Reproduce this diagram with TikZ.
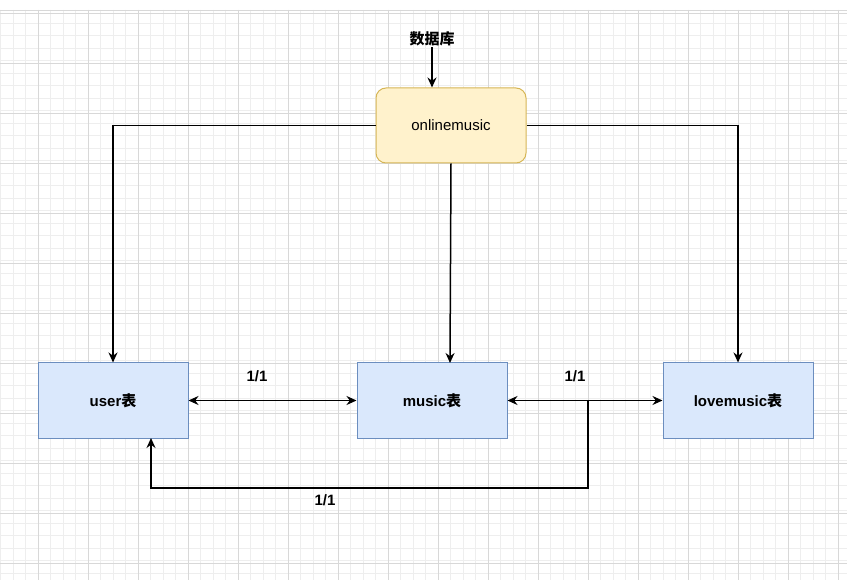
\documentclass[tikz,border=0pt]{standalone}
\usepackage{fontspec}
\setmainfont{Liberation Sans}
\newfontfamily\cjk{Noto Sans CJK SC}
\usetikzlibrary{arrows.meta}
\definecolor{bluefill}{HTML}{DAE8FC}
\definecolor{bluedraw}{HTML}{6C8EBF}
\definecolor{yelfill}{HTML}{FFF2CC}
\definecolor{yeldraw}{HTML}{D6B656}
\definecolor{minorgrid}{HTML}{EEEEEE}
\definecolor{majorgrid}{HTML}{D8D8D8}
\tikzset{
  tbl/.style={draw=bluedraw, fill=bluefill, line width=1pt, minimum width=150pt, minimum height=75pt, inner sep=0pt, font=\bfseries\fontsize{15}{18}\selectfont},
  dbbox/.style={draw=yeldraw, fill=yelfill, line width=1pt, rounded corners=10pt, minimum width=150pt, minimum height=75pt, inner sep=0pt, font=\fontsize{15}{18}\selectfont},
  conn/.style={line width=1.5pt, -{Stealth[length=10pt,width=9pt]}},
  bconn/.style={line width=1.5pt, {Stealth[length=10pt,width=9pt]}-{Stealth[length=10pt,width=9pt]}},
  lbl/.style={font=\bfseries\fontsize{15}{18}\selectfont, inner sep=1pt}
}
\begin{document}
\begin{tikzpicture}[x=1pt,y=-1pt]
\useasboundingbox (0,0) rectangle (847,580);
\fill[white] (0,0) rectangle (847,580);
% grid
\foreach \x in {0.5,13,...,847} \draw[minorgrid, line width=0.6pt] (\x,10) -- (\x,580);
\foreach \y in {10.5,23,...,580} \draw[minorgrid, line width=0.6pt] (0,\y) -- (847,\y);
\foreach \x in {38,88,...,847} \draw[majorgrid, line width=0.7pt] (\x,10) -- (\x,580);
\foreach \y in {13,63,...,580} \draw[majorgrid, line width=0.7pt] (0,\y) -- (847,\y);
\draw[majorgrid, line width=0.7pt] (0,10) -- (847,10);

% nodes
\node[dbbox] (om) at (451,125.5) {onlinemusic};
\node[tbl] (user) at (113,400.5) {user{\cjk\bfseries 表}};
\node[tbl] (music) at (432,400.5) {music{\cjk\bfseries 表}};
\node[tbl] (love) at (738,400.5) {lovemusic{\cjk\bfseries 表}};
\node[lbl] (db) at (432,39) {\cjk\bfseries 数据库};
\node[lbl] (l1) at (257,376) {1/1};
\node[lbl] (l2) at (575,376) {1/1};
\node[lbl] (l3) at (325,500) {1/1};
\coordinate (split) at (588,401);

% connectors
\draw[conn] (db.south) -- (om.north -| db.south);
\draw[conn] (om.west) -| (user.north);
\draw[conn] (om.south) -- (450,363);
\draw[conn] (om.east) -| (love.north);
\draw[bconn] (user.east) -- (music.west);
\draw[bconn] (music.east) -- (love.west);
\draw[conn] (split) -- (588,488) -| (151,438);
\end{tikzpicture}
\end{document}
